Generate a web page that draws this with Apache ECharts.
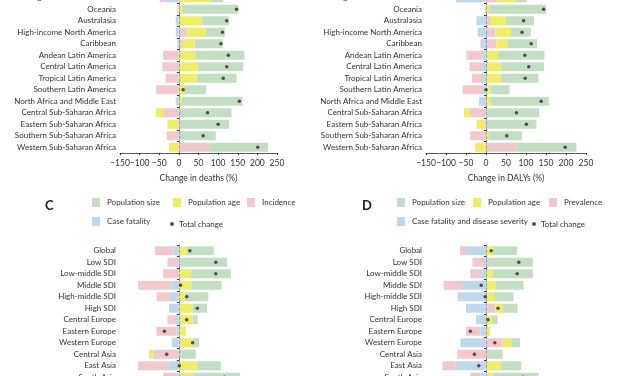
<!DOCTYPE html>
<html>
<head>
<meta charset="utf-8">
<script src="https://cdn.jsdelivr.net/npm/echarts@6/dist/echarts.min.js"></script>
<style>
  html, body { margin: 0; padding: 0; background: #fff; }
  #main { width: 627px; height: 376px; }
</style>
</head>
<body>
<div id="main"></div>
<script>
// categories (top to bottom, the figure is cut at top and bottom)
var regionCats = ['High-income Asia Pacific', 'Oceania', 'Australasia', 'High-income North America', 'Caribbean',
  'Andean Latin America', 'Central Latin America', 'Tropical Latin America', 'Southern Latin America',
  'North Africa and Middle East', 'Central Sub-Saharan Africa', 'Eastern Sub-Saharan Africa',
  'Southern Sub-Saharan Africa', 'Western Sub-Saharan Africa'];
var sdiCats = ['Global', 'Low SDI', 'Low-middle SDI', 'Middle SDI', 'High-middle SDI', 'High SDI',
  'Central Europe', 'Eastern Europe', 'Western Europe', 'Central Asia', 'East Asia', 'South Asia'];
var xTicks = [-150, -100, -50, 0, 50, 100, 150, 200, 250];

// A: change in deaths by region (%)
var aFatality  = [-36, -2, -8, -8, -4, 0, 0, 0, 0, -8, 0, 0, 0, 0];
var aIncidence = [-13, -2, 0, 20, 8, -40, -42, -34, -58, 0, -40, -2, -31, 77];
var aAge       = [79, 10, 58, 48, 32, 43, 49, 45, 14, 8, -19, -27, 0, -25];
var aSize      = [34, 142, 70, 49, 72, 124, 115, 102, 55, 154, 134, 128, 94, 150];
var aTotal     = [64, 147, 122, 111, 107, 126, 122, 113, 11, 154, 73, 100, 62, 201];

// B: change in DALYs by region (%)
var bSeverity   = [-75, -2, -24, -21, -14, -10, -10, -10, -10, -18, 0, 0, 0, 0];
var bPrevalence = [27, 0, 10, 23, 26, -39, -31, -25, -48, 0, -42, -4, -39, 76];
var bAge        = [46, 8, 40, 39, 27, 30, 38, 37, 11, 11, -13, -20, 6, -27];
var bSize       = [29, 142, 70, 50, 75, 116, 107, 94, 48, 146, 133, 126, 84, 150];
var bTotal      = [27, 144, 94, 90, 113, 97, 107, 98, 0, 138, 76, 101, 52, 198];

// C: change in deaths by SDI / region (%)
var cFatality  = [-14, -2, 0, -19, -23, -25, -10, -6, -18, 0, -27, -5];
var cIncidence = [-47, -27, -40, -85, -34, 0, -19, -51, 5, -67, -77, -35];
var cAge       = [20, 0, 31, 32, 15, 35, 35, 18, 30, -9, 45, 37];
var cSize      = [69, 123, 102, 77, 60, 37, 13, 0, 17, 43, 62, 119];
var cTotal     = [28, 94, 94, 4, 20, 47, 20, -37, 35, -31, 1, 116];

// D: change in DALYs by SDI / region (%)
var dSeverity   = [-50, -5, -12, -60, -71, -50, -25, -14, -64, 0, -77, -14];
var dPrevalence = [-15, -29, -27, -46, 0, 23, 0, -36, 42, -72, -32, -25];
var dAge        = [17, 0, 17, 25, 21, 18, 15, 11, 21, 0, 36, 19];
var dSize       = [61, 117, 100, 69, 48, 38, 14, 0, 22, 42, 52, 113];
var dTotal      = [13, 82, 78, -12, -2, 30, 5, -39, 22, -29, -18, 93];

var GREEN = '#c4dec4', YELLOW = '#eeee66', PINK = '#f1c9cd', BLUE = '#c0d8ec';
var FONT = 'Lato';

function xAxisOf(grid, title) {
  return {
    type: 'value', gridIndex: grid, min: xTicks[0], max: xTicks[xTicks.length - 1], interval: 50,
    name: title, nameLocation: 'middle', nameGap: 21,
    nameTextStyle: { color: '#333', fontSize: 8.5, fontFamily: FONT },
    axisLine: { show: true, lineStyle: { color: '#333', width: 0.8 } },
    axisTick: { show: true, length: 2, lineStyle: { color: '#333' } },
    axisLabel: {
      color: '#333', fontSize: 8.5, fontFamily: FONT, margin: 6,
      formatter: function (v) { return String(v).replace('-', '\u2212'); }
    },
    splitLine: { show: false }
  };
}

function yAxisOf(grid, cats) {
  return {
    type: 'category', gridIndex: grid, data: cats, inverse: true,
    axisLine: { show: true, lineStyle: { color: '#333', width: 0.8 } },
    axisTick: { show: true, length: 2, lineStyle: { color: '#333' } },
    axisLabel: { color: '#333', fontSize: 8, fontFamily: FONT, margin: 4, interval: 0 },
    splitLine: { show: false }
  };
}

// one panel = 4 stacked bars + total dots
function panelSeries(idx, cats, names, blue, pink, yellow, green, total) {
  var stack = 'p' + idx;
  var cols = [BLUE, PINK, YELLOW, GREEN];
  var vals = [blue, pink, yellow, green];
  var list = [];
  for (var i = 0; i < 4; i++) {
    var s = {
      name: names[i], type: 'bar', stack: stack, xAxisIndex: idx, yAxisIndex: idx,
      data: vals[i], barWidth: 9, itemStyle: { color: cols[i] }, silent: true
    };
    if (i === 0) {
      s.markLine = {
        silent: true, symbol: 'none', label: { show: false },
        lineStyle: { color: '#8497ab', type: 'dashed', width: 0.8 },
        data: [{ xAxis: 0 }]
      };
    }
    list.push(s);
  }
  list.push({
    name: 'Total change', type: 'scatter', xAxisIndex: idx, yAxisIndex: idx,
    symbol: 'circle', symbolSize: 3.5, z: 5, itemStyle: { color: '#2a2a2a' },
    data: total.map(function (v, k) { return [v, cats[k]]; })
  });
  return list;
}

function legendItem(name, x, y, isDot) {
  return {
    data: [isDot ? { name: name, icon: 'circle' } : { name: name, icon: 'rect' }],
    left: x, top: y, selectedMode: false,
    itemWidth: isDot ? 4 : 8, itemHeight: isDot ? 4 : 9, itemGap: 4,
    textStyle: { color: '#333', fontSize: 8, fontFamily: FONT, padding: [0, 0, 0, isDot ? 0 : 2] },
    padding: 0
  };
}

var deathNames = ['Case fatality', 'Incidence', 'Population age', 'Population size'];
var dalyNames = ['Case fatality and disease severity', 'Prevalence', 'Population age', 'Population size'];

var chart = echarts.init(document.getElementById('main'));
var series = []
  .concat(panelSeries(0, regionCats, deathNames, aFatality, aIncidence, aAge, aSize, aTotal))
  .concat(panelSeries(1, regionCats, dalyNames, bSeverity, bPrevalence, bAge, bSize, bTotal))
  .concat(panelSeries(2, sdiCats, deathNames, cFatality, cIncidence, cAge, cSize, cTotal))
  .concat(panelSeries(3, sdiCats, dalyNames, dSeverity, dPrevalence, dAge, dSize, dTotal));

var option = {
  animation: false,
  backgroundColor: '#fff',
  grid: [
    { left: 120, top: -8, width: 157, height: 161, outerBoundsMode: 'none', containLabel: false },
    { left: 426, top: -8, width: 160, height: 161, outerBoundsMode: 'none', containLabel: false },
    { left: 120, top: 245, width: 157, height: 138, outerBoundsMode: 'none', containLabel: false },
    { left: 426, top: 245, width: 160, height: 138, outerBoundsMode: 'none', containLabel: false }
  ],
  xAxis: [
    xAxisOf(0, 'Change in deaths (%)'),
    xAxisOf(1, 'Change in DALYs (%)'),
    xAxisOf(2, ''),
    xAxisOf(3, '')
  ],
  yAxis: [yAxisOf(0, regionCats), yAxisOf(1, regionCats), yAxisOf(2, sdiCats), yAxisOf(3, sdiCats)],
  legend: [
    legendItem('Population size', 92, 198),
    legendItem('Population age', 173, 198),
    legendItem('Incidence', 247, 198),
    legendItem('Case fatality', 92, 217),
    legendItem('Total change', 170, 220, true),
    legendItem('Population size', 397, 198),
    legendItem('Population age', 473, 198),
    legendItem('Prevalence', 549, 198),
    legendItem('Case fatality and disease severity', 397, 217),
    legendItem('Total change', 532, 220, true)
  ],
  graphic: [
    { type: 'text', left: 45, top: 199, style: { text: 'C', font: 'bold 13px Lato', fill: '#222' } },
    { type: 'text', left: 362, top: 199, style: { text: 'D', font: 'bold 13px Lato', fill: '#222' } }
  ],
  series: series
};
chart.setOption(option);
</script>
</body>
</html>
